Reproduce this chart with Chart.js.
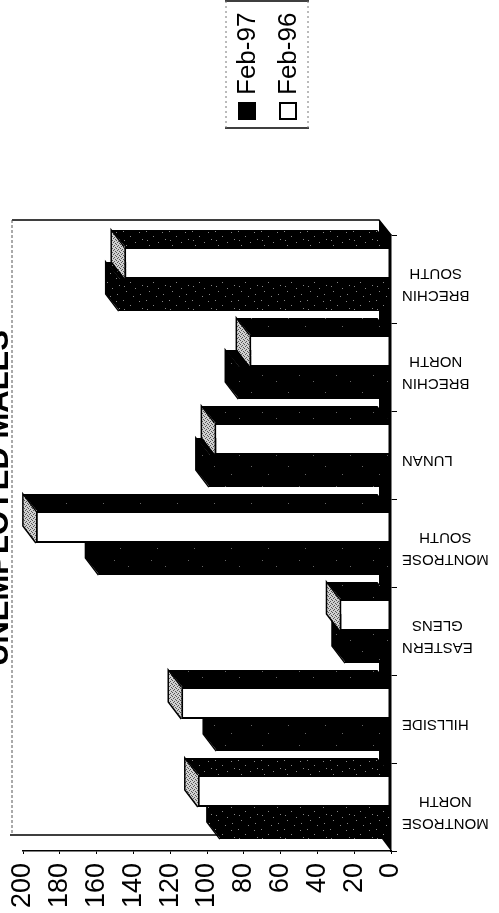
<!DOCTYPE html>
<html>
<head>
<meta charset="utf-8">
<title>Unemployed males</title>
<style>
  html, body { margin: 0; background: #fff; }
  canvas { display: block; }
</style>
<script src="https://cdn.jsdelivr.net/npm/chart.js@4/dist/chart.umd.js"></script>
</head>
<body>
<canvas id="chart" width="499" height="913"></canvas>
<script>
const TITLE = 'UNEMPLOYED MALES';
const CATEGORIES = [
  ['MONTROSE', 'NORTH'],
  ['HILLSIDE'],
  ['EASTERN', 'GLENS'],
  ['MONTROSE', 'SOUTH'],
  ['LUNAN'],
  ['BRECHIN', 'NORTH'],
  ['BRECHIN', 'SOUTH'],
];
const FEB_97 = [93, 95, 25, 159, 99, 83, 148];
const FEB_96 = [105, 114, 28, 193, 96, 77, 145];
const VALUE_TICKS = [0, 20, 40, 60, 80, 100, 120, 140, 160, 180, 200];

const FONT = '"Liberation Sans", Arial, sans-serif';
const DEPTH_X = -13;
const DEPTH_Y = -17;

const makeTile = (size, base, dot, dots) => {
  const tile = document.createElement('canvas');
  tile.width = size;
  tile.height = size;
  const c = tile.getContext('2d');
  c.fillStyle = base;
  c.fillRect(0, 0, size, size);
  c.fillStyle = dot;
  dots.forEach(([x, y]) => c.fillRect(x, y, 1, 1));
  return c.createPattern(tile, 'repeat');
};

const LIGHT_SPECKLE = makeTile(37, '#000', '#666', [[3, 5], [17, 11], [29, 22], [9, 30]]);
const HEAVY_SPECKLE = makeTile(23, '#000', '#888', [[1, 2], [8, 1], [15, 6], [20, 12], [4, 9], [11, 15], [18, 20], [2, 18], [9, 10]]);
const CAP_HATCH = makeTile(4, '#d0d0d0', '#555', [[0, 0], [2, 1], [1, 2], [3, 3]]);

const darkFor = (index) => (index === 0 || index === 6 ? HEAVY_SPECKLE : LIGHT_SPECKLE);

const polygon = (ctx, points, fill) => {
  ctx.beginPath();
  points.forEach(([x, y], i) => (i ? ctx.lineTo(x, y) : ctx.moveTo(x, y)));
  ctx.closePath();
  ctx.fillStyle = fill;
  ctx.fill();
};

// back wall, floor, and the sides of the bars
const depthPlugin = {
  id: 'depth',
  beforeDatasetsDraw(chart) {
    const { ctx, chartArea: { top, bottom, right } } = chart;
    ctx.save();
    ctx.strokeStyle = '#000';
    ctx.lineWidth = 1.5;
    ctx.beginPath();
    ctx.moveTo(12, top - 15);
    ctx.lineTo(right - 12, top - 15);
    ctx.lineTo(right, top);
    ctx.moveTo(10, bottom - 16);
    ctx.lineTo(right - 12, bottom - 16);
    ctx.stroke();
    ctx.lineWidth = 1;
    ctx.setLineDash([3, 2]);
    ctx.strokeStyle = '#555';
    ctx.beginPath();
    ctx.moveTo(12, top - 15);
    ctx.lineTo(12, bottom - 16);
    ctx.stroke();
    ctx.setLineDash([]);

    polygon(ctx, [
      [right, top], [right - 12, top - 15], [right - 12, bottom - 16], [right, bottom],
    ], '#000');

    // Feb-97 first: its side sits behind the Feb-96 bar
    [1, 0].forEach((d) => {
      chart.getDatasetMeta(d).data.forEach((bar, i) => {
        const { x, y, base, height } = bar.getProps(['x', 'y', 'base', 'height'], true);
        const up = y - height / 2;
        const low = y + height / 2;
        polygon(ctx, [
          [x + 1, up], [x + DEPTH_X, up + DEPTH_Y], [base + DEPTH_X, up + DEPTH_Y], [base, up],
        ], darkFor(i));
        polygon(ctx, [
          [x + 1, up], [x + DEPTH_X, up + DEPTH_Y], [x + DEPTH_X, low + DEPTH_Y], [x + 1, low],
        ], d === 1 ? darkFor(i) : CAP_HATCH);
        ctx.strokeStyle = '#000';
        ctx.lineWidth = 1.5;
        ctx.beginPath();
        ctx.moveTo(x, up);
        ctx.lineTo(x + DEPTH_X, up + DEPTH_Y);
        ctx.lineTo(x + DEPTH_X, low + DEPTH_Y);
        ctx.lineTo(x, low);
        ctx.stroke();
      });
    });
    ctx.restore();
  },
};

// upside-down category names, title and sideways legend
const labelsPlugin = {
  id: 'labels',
  afterDraw(chart) {
    const { ctx } = chart;
    const yScale = chart.scales.y;
    ctx.save();
    ctx.fillStyle = '#000';
    ctx.textBaseline = 'middle';
    ctx.textAlign = 'center';
    ctx.font = '15px ' + FONT;
    yScale.ticks.forEach((tick, i) => {
      const lines = CATEGORIES[i];
      const width = Math.max(...lines.map((line) => ctx.measureText(line).width));
      ctx.save();
      ctx.translate(402 + width / 2, yScale.getPixelForTick(i) + 5);
      ctx.rotate(Math.PI);
      lines.forEach((line, n) => ctx.fillText(line, 0, (n - (lines.length - 1) / 2) * 22));
      ctx.restore();
    });

    ctx.save();
    ctx.translate(7.5, 498);
    ctx.rotate(-Math.PI / 2);
    ctx.textBaseline = 'alphabetic';
    ctx.font = 'bold 31px ' + FONT;
    ctx.fillText(TITLE, 0, 0);
    ctx.restore();

    // legend box
    ctx.strokeStyle = '#000';
    ctx.lineWidth = 1.5;
    ctx.beginPath();
    ctx.moveTo(225, 1);
    ctx.lineTo(309, 1);
    ctx.moveTo(225, 128);
    ctx.lineTo(309, 128);
    ctx.stroke();
    ctx.strokeStyle = '#777';
    ctx.lineWidth = 1;
    ctx.setLineDash([2, 3]);
    ctx.beginPath();
    ctx.moveTo(226, 1);
    ctx.lineTo(226, 128);
    ctx.moveTo(308, 1);
    ctx.lineTo(308, 128);
    ctx.stroke();
    ctx.setLineDash([]);
    ctx.font = '26px ' + FONT;
    ctx.textAlign = 'left';
    [1, 0].forEach((d, row) => {
      const centre = row === 0 ? 247 : 288;
      ctx.fillStyle = '#000';
      ctx.save();
      ctx.translate(centre + 1, 95);
      ctx.rotate(-Math.PI / 2);
      ctx.fillText(chart.data.datasets[d].label, 0, 0);
      ctx.restore();
      ctx.fillRect(centre - 9, 102, 18, 18);
      if (d === 0) {
        ctx.fillStyle = '#fff';
        ctx.fillRect(centre - 7, 104, 14, 14);
      }
    });
    ctx.restore();
  },
};

new Chart(document.getElementById('chart'), {
  type: 'bar',
  plugins: [depthPlugin, labelsPlugin],
  data: {
    labels: CATEGORIES,
    datasets: [
      {
        label: 'Feb-96',
        data: FEB_96,
        backgroundColor: '#fff',
        borderColor: '#000',
        borderWidth: 2,
        borderSkipped: false,
      },
      {
        label: 'Feb-97',
        data: FEB_97,
        backgroundColor: (c) => darkFor(c.dataIndex),
        borderColor: '#000',
        borderWidth: 0,
      },
    ],
  },
  options: {
    indexAxis: 'y',
    responsive: false,
    devicePixelRatio: 1,
    animation: false,
    layout: { padding: { left: 23, top: 235, right: 0, bottom: 0 } },
    plugins: {
      legend: { display: false },
      tooltip: { enabled: false },
      title: { display: false },
    },
    datasets: { bar: { categoryPercentage: 0.73, barPercentage: 1 } },
    scales: {
      x: {
        reverse: true,
        min: 0,
        max: 200,
        afterBuildTicks: (scale) => { scale.ticks = VALUE_TICKS.map((value) => ({ value })); },
        afterFit: (scale) => { scale.height = 62; },
        border: { color: '#000', width: 1.5 },
        grid: { drawOnChartArea: false, drawTicks: true, tickLength: 3, color: '#000' },
        ticks: {
          autoSkip: false,
          minRotation: 90,
          maxRotation: 90,
          padding: 9,
          color: '#000',
          font: { family: FONT, size: 27 },
        },
      },
      y: {
        position: 'right',
        reverse: true,
        afterFit: (scale) => { scale.width = 108; },
        border: { color: '#000', width: 1.5 },
        grid: { drawOnChartArea: false, drawTicks: true, tickLength: 6, color: '#000' },
        ticks: { display: false },
      },
    },
  },
});
</script>
</body>
</html>
